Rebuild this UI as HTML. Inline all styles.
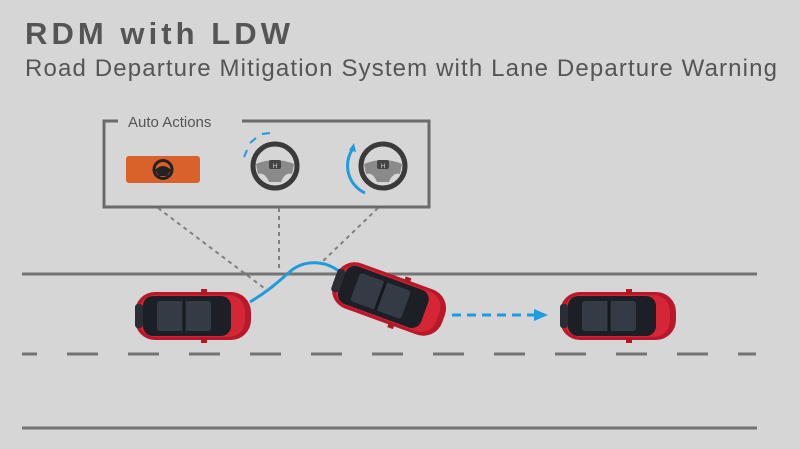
<!DOCTYPE html>
<html><head><style>
html,body{margin:0;padding:0;background:#d6d6d6;}
svg{display:block}
</style></head><body>
<svg width="800" height="449" viewBox="0 0 800 449" xmlns="http://www.w3.org/2000/svg">
<defs>
<g id="car">
  <rect x="-58" y="-24" width="116" height="48" rx="20" fill="#b8182a"/>
  <rect x="-54" y="-21" width="106" height="42" rx="16" fill="#d42634"/>
  <rect x="-50" y="-20" width="88" height="40" rx="10" fill="#1c2026"/>
  <rect x="-36" y="-15" width="54" height="30" rx="3" fill="#343b44"/>
  <line x1="-9" y1="-15" x2="-9" y2="15" stroke="#15181c" stroke-width="3"/>
  <rect x="-58" y="-12" width="8" height="24" rx="3" fill="#2a2e34"/>
  <rect x="8" y="-27" width="6" height="5" fill="#b01822"/>
  <rect x="8" y="22" width="6" height="5" fill="#b01822"/>
</g>
<g id="wheel">
  <circle r="22" fill="none" stroke="#3a3a3a" stroke-width="5"/>
  <path d="M-19,-2 Q0,-10 19,-2 L17,8 Q10,6 6,16 L-6,16 Q-10,6 -17,8 Z" fill="#8a8a8a"/>
  <rect x="-6" y="-6" width="12" height="9" rx="2" fill="#444"/>
  <text x="0" y="2" font-size="6" fill="#ddd" text-anchor="middle" font-family="Liberation Sans">H</text>
</g>
</defs>
<text x="25" y="44" font-family="Liberation Sans, sans-serif" font-weight="bold" font-size="31" fill="#555" textLength="265">RDM with LDW</text>
<text x="25" y="76" font-family="Liberation Sans, sans-serif" font-size="24" fill="#555" textLength="752">Road Departure Mitigation System with Lane Departure Warning</text>

<path d="M118,121 L104,121 L104,207 L429,207 L429,121 L242,121" fill="none" stroke="#6a6a6a" stroke-width="3"/>
<text x="128" y="127" font-family="Liberation Sans, sans-serif" font-size="15" fill="#555">Auto Actions</text>
<rect x="126" y="156" width="74" height="27" rx="3" fill="#d9622b"/>
<circle cx="163" cy="169.5" r="9" fill="none" stroke="#222" stroke-width="3"/>
<path d="M155,170 Q163,162 171,170 L167,176 L159,176 Z" fill="#222"/>
<use href="#wheel" x="275" y="166"/>
<use href="#wheel" x="383" y="166"/>
<path d="M244,157 L247,150 M250,143 L256,138 M262,134 L270,133" stroke="#1f9be0" stroke-width="2" fill="none"/>
<path d="M365,193 A30,30 0 0 1 352,150" stroke="#1f9be0" stroke-width="3" fill="none"/>
<path d="M349,150 L354,143 L356,152 Z" fill="#1f9be0"/>

<g stroke="#808080" stroke-width="2" stroke-dasharray="4,4" fill="none">
<line x1="158" y1="208" x2="264" y2="288"/>
<line x1="279" y1="208" x2="279" y2="272"/>
<line x1="378" y1="208" x2="322" y2="262"/>
</g>

<line x1="22" y1="274" x2="757" y2="274" stroke="#747474" stroke-width="3"/>
<line x1="22" y1="428" x2="757" y2="428" stroke="#747474" stroke-width="3"/>
<line x1="22" y1="354" x2="37" y2="354" stroke="#747474" stroke-width="3"/>
<line x1="67" y1="354" x2="756" y2="354" stroke="#747474" stroke-width="3" stroke-dasharray="31,30"/>

<path d="M250,302 C270,290 280,280 292,270 C305,260 325,260 340,272" stroke="#1f9be0" stroke-width="3" fill="none"/>
<line x1="452" y1="315" x2="536" y2="315" stroke="#1f9be0" stroke-width="3" stroke-dasharray="9,6"/>
<path d="M534,309 L548,315 L534,321 Z" fill="#1f9be0"/>

<use href="#car" x="193" y="316"/>
<use href="#car" transform="translate(389,299) rotate(20)"/>
<use href="#car" x="618" y="316"/>
</svg>
</body></html>
